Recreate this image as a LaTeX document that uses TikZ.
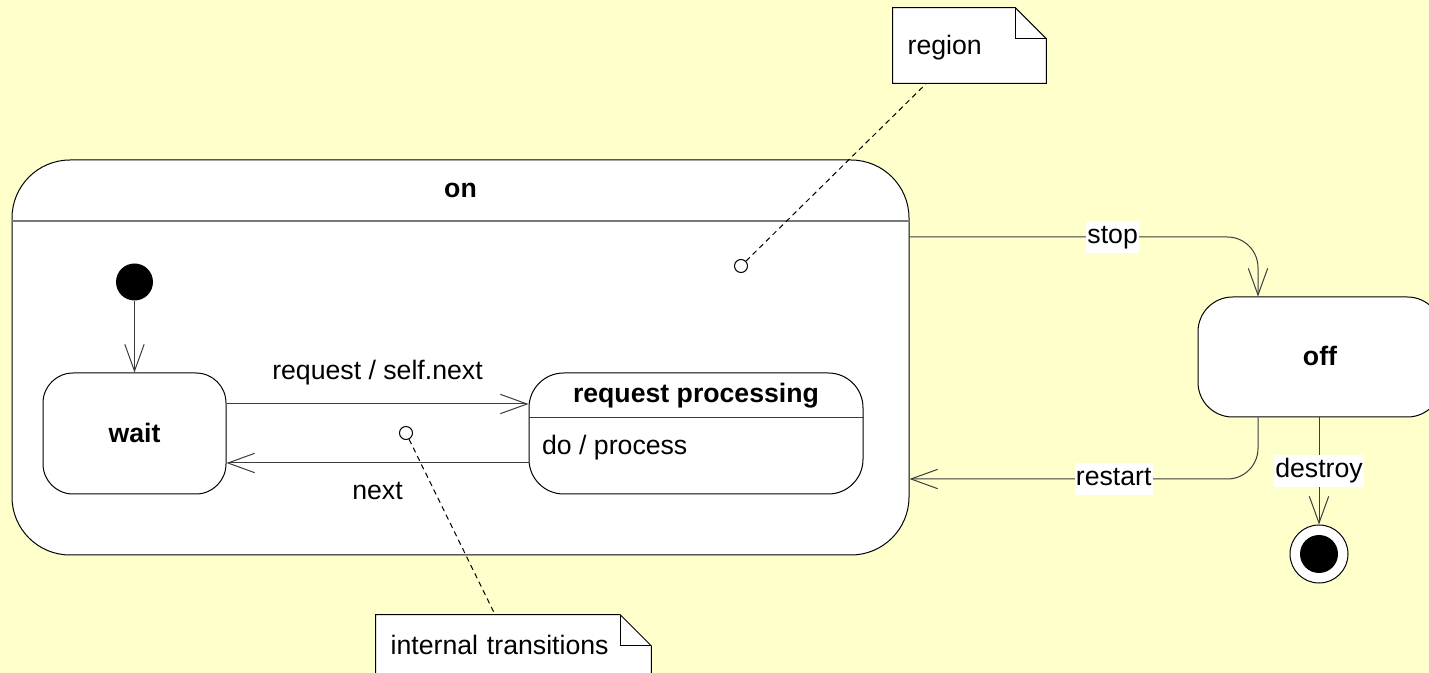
\documentclass[tikz,border=0pt]{standalone}
\usepackage{fontspec}
\setmainfont{Liberation Sans}
\usetikzlibrary{arrows.meta,calc}
\definecolor{bgyellow}{RGB}{255,255,204}
\definecolor{headgray}{RGB}{120,120,120}
\definecolor{linegray}{RGB}{60,60,60}
\pgfdeclarelayer{back}
\pgfsetlayers{back,main}

\begin{document}
\begin{tikzpicture}[x=0.75pt,y=-0.75pt,
  font=\fontsize{20}{24}\selectfont,
  statebox/.style={draw=black, fill=white, line width=0.75pt, inner sep=0pt, rounded corners=#1},
  title/.style={font=\fontsize{20}{24}\selectfont\bfseries, inner sep=0pt, anchor=base},
  plain/.style={inner sep=0pt, anchor=base},
  trans/.style={draw=linegray, line width=0.75pt, -{Straight Barb[length=20pt,width=14.5pt,line width=0.75pt]}},
  lab/.style={text height=16.5pt, text depth=6pt, fill=white, sharp corners, inner xsep=0.75pt, inner ysep=0.75pt},
  headline/.style={draw=headgray, line width=1.1pt},
  subline/.style={draw=linegray, line width=0.75pt},
  notebox/.style={text height=18pt, text depth=4pt, inner xsep=11pt, inner ysep=0pt, align=left},
  noteline/.style={draw=black, line width=0.75pt, fill=white, line join=miter},
  foldline/.style={draw=black, line width=1.1pt},
  notept/.style={circle, draw=black, fill=white, line width=0.75pt, minimum size=9.75pt, inner sep=0pt},
  noteconn/.style={draw=black, line width=0.75pt, dash pattern=on 4pt off 3pt},
]
\begin{pgfonlayer}{back}
  \fill[bgyellow] (0,0) rectangle (1429,673);
\end{pgfonlayer}
\useasboundingbox (0,0) rectangle (1429,673);

% helper levels for horizontal connectors and separators
\coordinate (yhead) at (0,221);
\coordinate (yrphead) at (0,418);
\coordinate (ybody) at (0,455);
\coordinate (yreq) at (0,404);
\coordinate (ynext) at (0,463);
\coordinate (ystop) at (0,237);
\coordinate (yrestart) at (0,479);
\coordinate (xturn) at (1258,0);

% composite state "on"
\node[statebox=43.5pt, minimum width=672.75pt, minimum height=296.25pt] (on) at (460.5,357.5) {};
\draw[headline] (on.west |- yhead) -- (on.east |- yhead);
\node[title, yshift=-5.6pt] (ontitle) at ($(on.north)!0.5!(on.north |- yhead)$) {on};

% inner states
\node[circle, fill=black, minimum size=27.75pt, inner sep=0pt] (init) at (134.5,282) {};
\node[statebox=22.5pt, minimum width=137.25pt, minimum height=90.75pt] (wait) at (134.5,433.5) {};
\node[title, yshift=-6.4pt] (waittitle) at (wait.center) {wait};
\node[statebox=26pt, minimum width=250.5pt, minimum height=90.75pt] (rp) at (696,433.5) {};
\draw[subline] (rp.west |- yrphead) -- (rp.east |- yrphead);
\node[title, yshift=-5.6pt] (rptitle) at ($(rp.north)!0.5!(rp.north |- yrphead)$) {request processing};
\node[plain, anchor=base west] (rpbody) at ([xshift=10pt]rp.west |- ybody) {do / process};

% state "off" and final state
\node[statebox=26pt, minimum width=183pt, minimum height=90pt] (off) at (1320,357) {};
\node[title, yshift=-6.75pt] (offtitle) at (off.center) {off};
\node[circle, draw=black, fill=white, line width=0.75pt, minimum size=43.5pt, inner sep=0pt] (final) at (1319,554) {};
\node[circle, fill=black, minimum size=28.5pt, inner sep=0pt] (finaldot) at (final) {};

% transitions
\draw[trans] (init) -- (wait);
\draw[trans] (wait.east |- yreq) -- node[plain, midway, yshift=18pt] (reqlab) {request / self.next} (rp.west |- yreq);
\draw[trans] (rp.west |- ynext) -- node[plain, midway, yshift=-27.75pt] (nextlab) {next} (wait.east |- ynext);
\draw[trans, rounded corners=23pt] (on.east |- ystop) -- node[lab, pos=0.583] (stoplab) {stop} (xturn |- ystop) -- (xturn |- off.north);
\draw[trans, rounded corners=23pt] (xturn |- off.south) -- (xturn |- yrestart) -- node[lab, pos=0.414] (restartlab) {restart} (on.east |- yrestart);
\draw[trans] (final |- off.south) -- node[lab, midway] (destroylab) {destroy} (final);

% notes
\node[notebox, minimum width=114.75pt, minimum height=56.25pt, text width=92.75pt] (regionnote) at (969.5,45.5) {region};
\node[notebox, minimum width=206.25pt, minimum height=45pt, text width=184.25pt] (internalnote) at (513.5,645) {internal transitions};
\begin{pgfonlayer}{back}
  \foreach \n in {regionnote, internalnote} {
    \draw[noteline] (\n.north west) -- ([xshift=-23.25pt]\n.north east) -- ([yshift=-23.25pt]\n.north east) -- (\n.south east) -- (\n.south west) -- cycle;
  }
\end{pgfonlayer}
\foreach \n in {regionnote, internalnote} {
  \draw[foldline] ([xshift=-23.25pt]\n.north east) -- ([xshift=-23.25pt, yshift=-23.25pt]\n.north east) -- ([yshift=-23.25pt]\n.north east);
}

% note attachments
\node[notept] (regionpt) at (741,266) {};
\node[notept] (internalpt) at (406,433) {};
\draw[noteconn] (regionpt) -- ($(regionnote.south west)!0.22!(regionnote.south east)$);
\draw[noteconn] (internalpt) -- ($(internalnote.north west)!0.433!(internalnote.north east)$);
\end{tikzpicture}
\end{document}
